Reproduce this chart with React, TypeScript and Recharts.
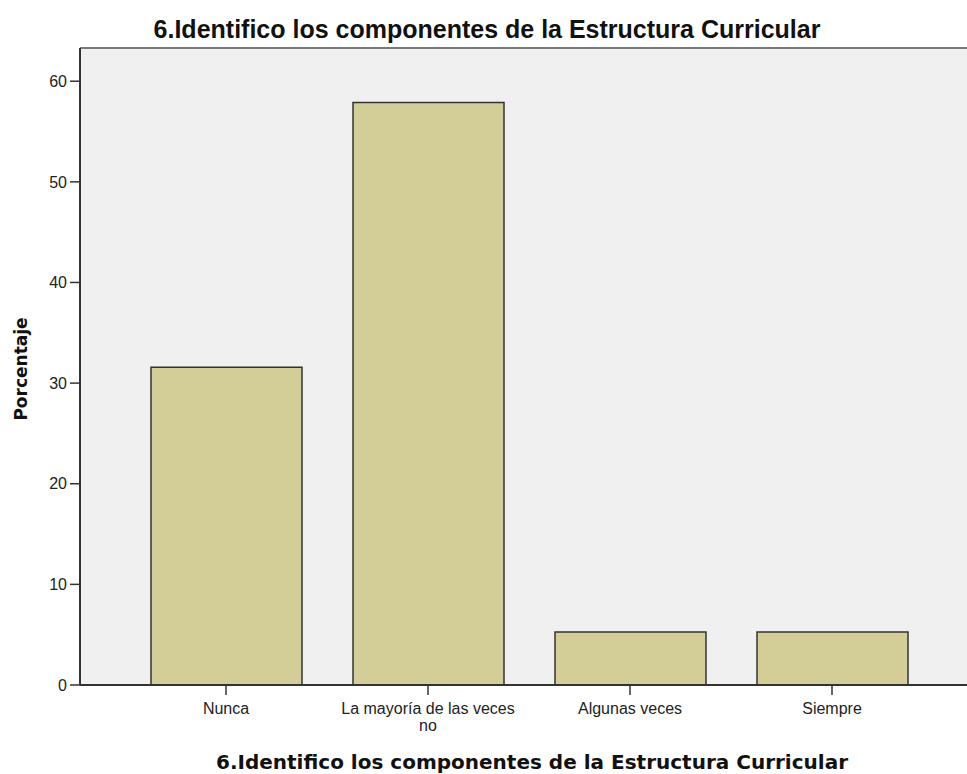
import React from "react";
import { BarChart, Bar, XAxis, YAxis, CartesianGrid, ReferenceLine } from "recharts";

const categories = ["Nunca", "La mayoría de las veces no", "Algunas veces", "Siempre"];
const percentages = [31.58, 57.89, 5.26, 5.26];
const categoryLines = [["Nunca"], ["La mayoría de las veces", "no"], ["Algunas veces"], ["Siempre"]];
const yTicks = [0, 10, 20, 30, 40, 50, 60];
const yMax = 63.3;
const chartTitle = "6.Identifico los componentes de la Estructura Curricular";
const xAxisTitle = "6.Identifico los componentes de la Estructura Curricular";
const yAxisTitle = "Porcentaje";

const data = categories.map((c, i) => ({ category: c, value: percentages[i] }));

const FONT = "'Liberation Sans', Arial, sans-serif";
const BOLD_FONT = "'DejaVu Sans', sans-serif";

const XTick = (props: any) => {
  const { x, y, index } = props;
  const lines = categoryLines[index] || [props.payload.value];
  return (
    <g transform={`translate(${x},${y})`}>
      {lines.map((l: string, i: number) => (
        <text
          key={i}
          x={0}
          y={0}
          dy={12 + i * 17}
          textAnchor="middle"
          fill="#222"
          fontSize={16}
          fontFamily={FONT}
        >
          {l}
        </text>
      ))}
    </g>
  );
};

export default function App() {
  return (
    <div style={{ position: "absolute", left: 0, top: 0, width: 967, height: 774, background: "#fff" }}>
      <BarChart
        width={967}
        height={774}
        data={data}
        margin={{ top: 48, right: 0, bottom: 29, left: 0 }}
      >
        <CartesianGrid fill="#F0F0F0" fillOpacity={1} stroke="none" horizontal={false} vertical={false} />
        <ReferenceLine y={yMax} stroke="#7a7a7a" strokeWidth={2} />
        <XAxis
          dataKey="category"
          height={60}
          padding={{ left: 45, right: 34 }}
          axisLine={{ stroke: "#333", strokeWidth: 2 }}
          tickLine={{ stroke: "#333", strokeWidth: 1.5 }}
          tickSize={10}
          tickMargin={7}
          interval={0}
          tick={<XTick />}
        />
        <YAxis
          width={80}
          domain={[0, yMax]}
          ticks={yTicks}
          type="number"
          axisLine={{ stroke: "#333", strokeWidth: 2 }}
          tickLine={{ stroke: "#333", strokeWidth: 1.5 }}
          tickSize={10}
          tickMargin={3}
          tick={{ fill: "#222", fontSize: 16, fontFamily: FONT }}
        />
        <Bar
          dataKey="value"
          fill="#D3CE97"
          stroke="#333"
          strokeWidth={1.5}
          barSize={151}
          isAnimationActive={false}
        />
      </BarChart>
      <div
        style={{
          position: "absolute",
          left: 487 - 450,
          width: 900,
          top: 16,
          textAlign: "center",
          fontFamily: FONT,
          fontWeight: "bold",
          fontSize: 25,
          lineHeight: "26px",
          color: "#111",
          whiteSpace: "nowrap",
        }}
      >
        {chartTitle}
      </div>
      <div
        style={{
          position: "absolute",
          left: 532 - 400,
          width: 800,
          top: 752,
          textAlign: "center",
          fontFamily: BOLD_FONT,
          fontWeight: "bold",
          fontSize: 20,
          lineHeight: "20px",
          color: "#111",
          whiteSpace: "nowrap",
        }}
      >
        {xAxisTitle}
      </div>
      <div
        style={{
          position: "absolute",
          left: 21 - 100,
          top: 369 - 10,
          width: 200,
          height: 20,
          lineHeight: "20px",
          textAlign: "center",
          transform: "rotate(-90deg)",
          fontFamily: BOLD_FONT,
          fontWeight: "bold",
          fontSize: 17,
          color: "#111",
          whiteSpace: "nowrap",
        }}
      >
        {yAxisTitle}
      </div>
    </div>
  );
}
